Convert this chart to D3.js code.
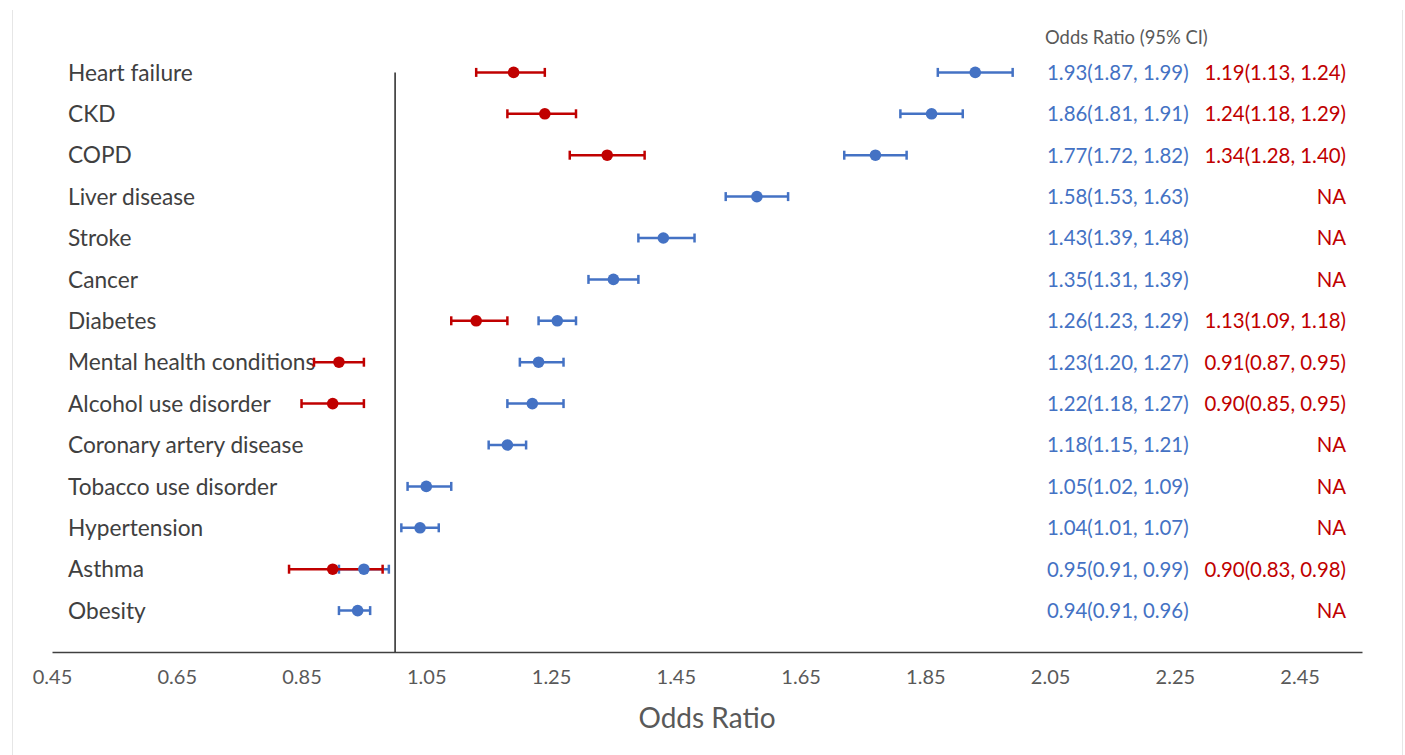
<!DOCTYPE html>
<html>
<head>
<meta charset="utf-8">
<script src="https://cdn.jsdelivr.net/npm/d3@7"></script>
<style>
  html, body { margin: 0; padding: 0; background: #ffffff; }
  svg { display: block; }
</style>
</head>
<body>
<svg id="chart" width="1405" height="755"></svg>
<script>
// ---------------- data ----------------
const categories = [
  "Heart failure", "CKD", "COPD", "Liver disease", "Stroke", "Cancer", "Diabetes",
  "Mental health conditions", "Alcohol use disorder", "Coronary artery disease",
  "Tobacco use disorder", "Hypertension", "Asthma", "Obesity"
];
const blueOR = [1.93, 1.86, 1.77, 1.58, 1.43, 1.35, 1.26, 1.23, 1.22, 1.18, 1.05, 1.04, 0.95, 0.94];
const blueLo = [1.87, 1.81, 1.72, 1.53, 1.39, 1.31, 1.23, 1.20, 1.18, 1.15, 1.02, 1.01, 0.91, 0.91];
const blueHi = [1.99, 1.91, 1.82, 1.63, 1.48, 1.39, 1.29, 1.27, 1.27, 1.21, 1.09, 1.07, 0.99, 0.96];
const redOR  = [1.19, 1.24, 1.34, null, null, null, 1.13, 0.91, 0.90, null, null, null, 0.90, null];
const redLo  = [1.13, 1.18, 1.28, null, null, null, 1.09, 0.87, 0.85, null, null, null, 0.83, null];
const redHi  = [1.24, 1.29, 1.40, null, null, null, 1.18, 0.95, 0.95, null, null, null, 0.98, null];
const xTicks = [0.45, 0.65, 0.85, 1.05, 1.25, 1.45, 1.65, 1.85, 2.05, 2.25, 2.45];
const referenceValue = 1.0;
const headerText = "Odds Ratio (95% CI)";
const axisTitle = "Odds Ratio";
const naText = "NA";

// ---------------- layout ----------------
const BLUE = "#4472C4", RED = "#C00000";
const FONT = "Lato, 'Open Sans', sans-serif";
const svg = d3.select("#chart");

const x = d3.scaleLinear().domain([0.45, 2.55]).range([52, 1362]);
const n = categories.length;
const y = d3.scaleLinear().domain([0, n]).range([652, 72.4]);
const rowY = i => y(n - i);

// faint chart-area border
svg.append("line").attr("x1", 12.5).attr("x2", 12.5).attr("y1", 10).attr("y2", 755)
  .attr("stroke", "#e6e6e6").attr("stroke-width", 1);
svg.append("line").attr("x1", 1402.5).attr("x2", 1402.5).attr("y1", 10).attr("y2", 755)
  .attr("stroke", "#e6e6e6").attr("stroke-width", 1);

// category labels
svg.append("g").selectAll("text").data(categories).join("text")
  .attr("x", 68).attr("y", (d, i) => rowY(i)).attr("dy", "0.36em")
  .attr("font-family", FONT).attr("font-size", 22.7).attr("fill", "#404040")
  .text(d => d);

// x axis
const xAxis = d3.axisBottom(x).tickValues(xTicks).tickSize(0).tickPadding(18)
  .tickFormat(d3.format(".2f"));
const gx = svg.append("g").attr("transform", "translate(0,652)").call(xAxis);
gx.select(".domain").attr("stroke", "#404040").attr("stroke-width", 1.5);
gx.selectAll(".tick text").attr("font-family", FONT).attr("font-size", 20).attr("fill", "#595959");

// reference line at OR = 1
svg.append("line")
  .attr("x1", x(referenceValue)).attr("x2", x(referenceValue))
  .attr("y1", y(n)).attr("y2", y(0))
  .attr("stroke", "#262626").attr("stroke-width", 1.5);

// axis title
svg.append("text").attr("x", 707).attr("y", 718).attr("dy", "0.36em")
  .attr("text-anchor", "middle").attr("font-family", FONT).attr("font-size", 28)
  .attr("fill", "#595959").text(axisTitle);

// error bars
function errorBars(lo, hi, color) {
  const rows = lo.map((v, i) => ({ i, lo: v, hi: hi[i] })).filter(d => d.lo != null);
  const g = svg.append("g").attr("stroke", color).attr("stroke-width", 2.5).attr("fill", "none");
  g.selectAll(".bar").data(rows).join("line")
    .attr("x1", d => x(d.lo)).attr("x2", d => x(d.hi))
    .attr("y1", d => rowY(d.i)).attr("y2", d => rowY(d.i));
  g.selectAll(".capL").data(rows).join("line")
    .attr("x1", d => x(d.lo)).attr("x2", d => x(d.lo))
    .attr("y1", d => rowY(d.i) - 4.5).attr("y2", d => rowY(d.i) + 4.5);
  g.selectAll(".capR").data(rows).join("line")
    .attr("x1", d => x(d.hi)).attr("x2", d => x(d.hi))
    .attr("y1", d => rowY(d.i) - 4.5).attr("y2", d => rowY(d.i) + 4.5);
}
function dots(vals, color) {
  const rows = vals.map((v, i) => ({ i, v })).filter(d => d.v != null);
  svg.append("g").selectAll("circle").data(rows).join("circle")
    .attr("cx", d => x(d.v)).attr("cy", d => rowY(d.i)).attr("r", 5.8)
    .attr("fill", color);
}
errorBars(blueLo, blueHi, BLUE);
errorBars(redLo, redHi, RED);
dots(redOR, RED);
dots(blueOR, BLUE);

// right-hand text table
const fmt = d3.format(".2f");
svg.append("text").attr("x", 1045).attr("y", 37).attr("dy", "0.36em")
  .attr("font-family", FONT).attr("font-size", 18.4).attr("fill", "#595959").text(headerText);
svg.append("g").selectAll("text").data(blueOR).join("text")
  .attr("x", 1047).attr("y", (d, i) => rowY(i)).attr("dy", "0.36em")
  .attr("font-family", FONT).attr("font-size", 20.4).attr("fill", BLUE)
  .text((d, i) => `${fmt(d)}(${fmt(blueLo[i])}, ${fmt(blueHi[i])})`);
svg.append("g").selectAll("text").data(redOR).join("text")
  .attr("x", 1346).attr("y", (d, i) => rowY(i)).attr("dy", "0.36em")
  .attr("text-anchor", "end")
  .attr("font-family", FONT).attr("font-size", 20.4).attr("fill", RED)
  .text((d, i) => d == null ? naText : `${fmt(d)}(${fmt(redLo[i])}, ${fmt(redHi[i])})`);
</script>
</body>
</html>
